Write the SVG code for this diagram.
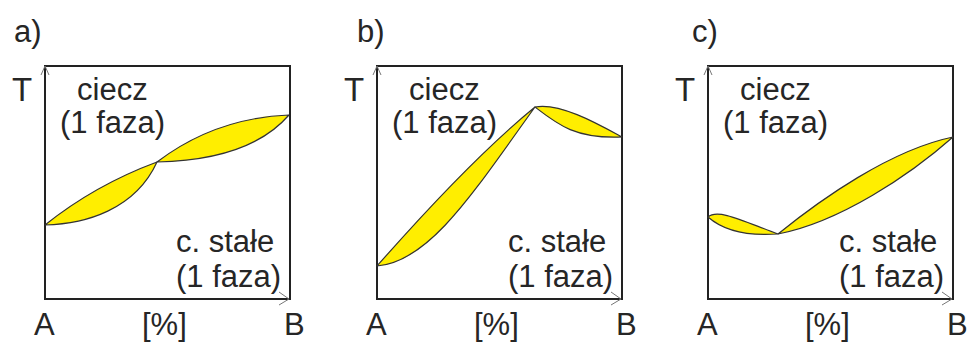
<svg xmlns="http://www.w3.org/2000/svg" width="970" height="343" viewBox="0 0 970 343">
<style>
text{font-family:"Liberation Sans",Arial,sans-serif;font-size:31px;fill:#262626}
.box{fill:none;stroke:#222;stroke-width:2}
.ax{fill:none;stroke:#777;stroke-width:1}
.lens{fill:#FFEE00;stroke:#333;stroke-width:1.2;stroke-linejoin:round}
</style>
<defs>
<g id="frame">
<rect class="box" x="45" y="66" width="245" height="233"/>
<path class="ax" d="M41,75 L45,66 L49,75"/>
<path class="ax" d="M279,292 L289,299 L279,305"/>
<text x="12" y="101" style="font-size:33px">T</text>
<text x="77" y="100">ciecz</text>
<text x="60" y="133">(1 faza)</text>
<text x="176" y="252">c. stałe</text>
<text x="176" y="287">(1 faza)</text>
<text x="34" y="335">A</text>
<text x="142" y="335">[%]</text>
<text x="284" y="335">B</text>
</g>
</defs>
<g id="panel-a">
<text x="14" y="42">a)</text>
<use href="#frame"/>
<path class="lens" d="M45,225 Q95,185 157,162 C135,210 85,224 45,225 Z"/>
<path class="lens" d="M157,162 Q215,118 289,115 Q250,160 157,162 Z"/>
</g>
<g id="panel-b">
<text x="357" y="42">b)</text>
<g transform="translate(332,0)">
<use href="#frame"/>
<path class="lens" d="M45,266 C68,240 138,160 203,107 C143,190 98,262 45,266 Z"/>
<path class="lens" d="M203,107 C228,102 268,125 290,137 C243,139 225,124 203,107 Z"/>
</g>
</g>
<g id="panel-c">
<text x="692" y="42">c)</text>
<g transform="translate(663,0)">
<use href="#frame"/>
<path class="lens" d="M45,217 C55,208 82,222 115,234 C87,236 62,232 45,217 Z"/>
<path class="lens" d="M115,234 C157,200 227,150 290,137 C247,175 177,222 115,234 Z"/>
</g>
</g>
</svg>
